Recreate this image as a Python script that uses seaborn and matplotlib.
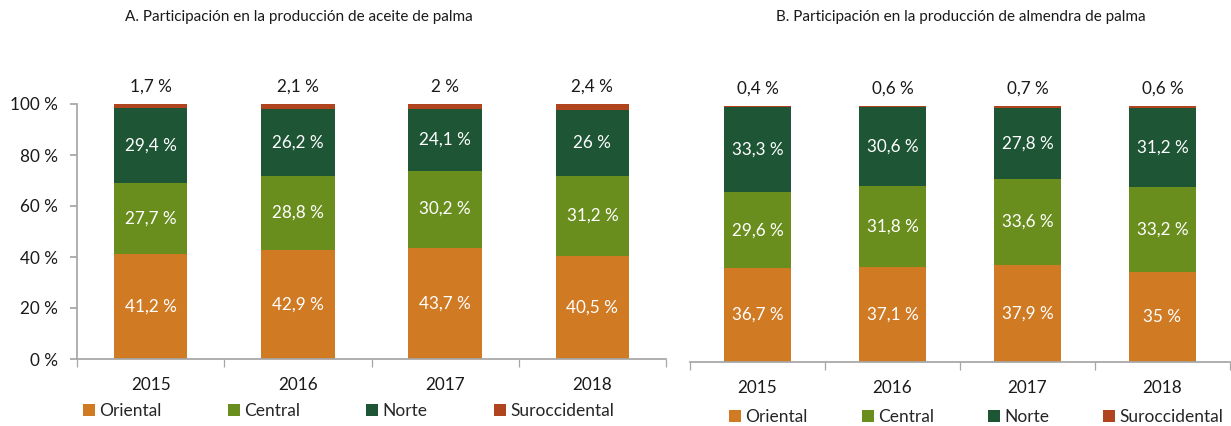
import matplotlib
matplotlib.use("Agg")
import matplotlib.pyplot as plt
import seaborn as sns
import numpy as np
from matplotlib.patches import Patch

sns.set_theme(style="white")
plt.rcParams['font.family'] = ['Lato', 'DejaVu Sans']

years = ["2015", "2016", "2017", "2018"]
regions = ["Oriental", "Central", "Norte", "Suroccidental"]
colors = ["#D07A23", "#6A8E1E", "#1D5535", "#B0441F"]

aceite_oriental = [41.2, 42.9, 43.7, 40.5]
aceite_central = [27.7, 28.8, 30.2, 31.2]
aceite_norte = [29.4, 26.2, 24.1, 26.0]
aceite_suroccidental = [1.7, 2.1, 2.0, 2.4]

almendra_oriental = [36.7, 37.1, 37.9, 35.0]
almendra_central = [29.6, 31.8, 33.6, 33.2]
almendra_norte = [33.3, 30.6, 27.8, 31.2]
almendra_suroccidental = [0.4, 0.6, 0.7, 0.6]

title_a = "A. Participación en la producción de aceite de palma"
title_b = "B. Participación en la producción de almendra de palma"


def fmt(v):
    s = f"{v:.1f}".replace(".", ",")
    if s.endswith(",0"):
        s = s[:-2]
    return s + " %"


fig = plt.figure(figsize=(12.31, 4.26), dpi=100)
ax1 = fig.add_axes([77 / 1231, (426 - 359) / 426, 589 / 1231, 255 / 426])
ax2 = fig.add_axes([690 / 1231, (426 - 362) / 426, 540 / 1231, 256 / 426])


def draw(ax, series, show_y, leg_pos, leg_fs, colsp):
    bottom = np.zeros(len(years))
    for i, (vals, col) in enumerate(zip(series, colors)):
        sns.barplot(x=years, y=vals, bottom=bottom, color=col, width=0.5,
                    ax=ax, saturation=1, linewidth=0)
        for j, v in enumerate(vals):
            if i < 3:
                ax.text(j, bottom[j] + v / 2, fmt(v), ha="center", va="center",
                        color="white", fontsize=12.3)
            else:
                ax.text(j, 106.7, fmt(v), ha="center", va="center",
                        color="#1a1a1a", fontsize=12.3)
        bottom = bottom + np.array(vals)
    ax.set_ylim(0, 100)
    ax.set_xlim(-0.5, len(years) - 0.5)
    ax.set_xlabel("")
    ax.set_ylabel("")
    for s in ["top", "right"]:
        ax.spines[s].set_visible(False)
    ax.spines["bottom"].set_color("#a6a6a6")
    ax.spines["left"].set_color("#a6a6a6")
    ax.tick_params(axis="x", which="major", length=0, labelsize=12.3, pad=13,
                   labelcolor="#1a1a1a")
    ax.set_xticks(np.arange(-0.5, len(years), 1.0), minor=True)
    ax.tick_params(axis="x", which="minor", length=6, color="#a6a6a6", width=0.9,
                   direction="out", bottom=True)
    if show_y:
        ax.set_yticks(np.arange(0, 101, 20))
        ax.set_yticklabels([f"{t} %" for t in range(0, 101, 20)])
        ax.tick_params(axis="y", length=5, color="#a6a6a6", labelsize=12.3,
                       left=True, labelcolor="#1a1a1a", pad=9)
    else:
        ax.spines["left"].set_visible(False)
        ax.set_yticks([])
    handles = [Patch(facecolor=c, edgecolor="none") for c in colors]
    ax.legend(handles, regions, loc="center left",
              bbox_to_anchor=leg_pos, bbox_transform=fig.transFigure,
              ncol=4, frameon=False, fontsize=leg_fs, handlelength=0.7,
              handleheight=0.7, handletextpad=0.25, columnspacing=colsp,
              borderaxespad=0, borderpad=0)


draw(ax1, [aceite_oriental, aceite_central, aceite_norte, aceite_suroccidental],
     True, (83 / 1231, (426 - 411) / 426), 12.5, 3.8)
draw(ax2, [almendra_oriental, almendra_central, almendra_norte, almendra_suroccidental],
     False, (729 / 1231, (426 - 417) / 426), 12.5, 3.1)

fig.text(299 / 1231, (426 - 17) / 426, title_a, ha="center", va="center",
         fontsize=11, color="#1a1a1a")
fig.text(961 / 1231, (426 - 17) / 426, title_b, ha="center", va="center",
         fontsize=11, color="#1a1a1a")

fig.savefig("out.png", dpi=100)
